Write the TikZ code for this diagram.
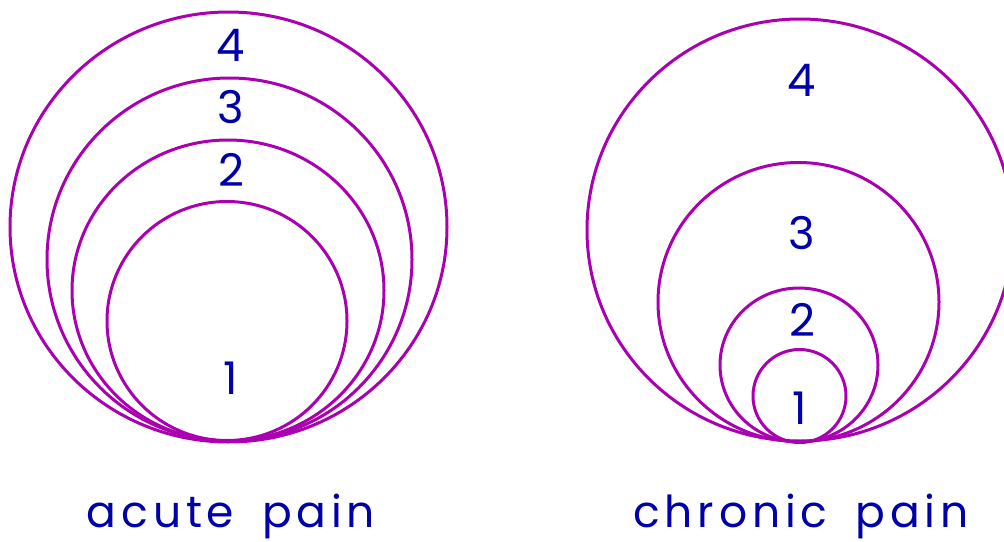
\documentclass[tikz,border=0pt]{standalone}
\usepackage{fontspec}
\setmainfont{Poppins}
\newfontfamily\lblfont[LetterSpace=11]{Poppins}
\definecolor{ring}{RGB}{170,0,178}
\definecolor{ink}{RGB}{0,0,170}
\begin{document}
\begin{tikzpicture}[x=1pt,y=-1pt,
  ringline/.style={draw=ring,line width=3pt},
  digit/.style={text=ink,inner sep=0pt,font=\fontsize{45}{45}\selectfont},
  caption/.style={text=ink,inner sep=0pt,anchor=base,font=\fontsize{44}{44}\lblfont}]
\useasboundingbox (0,0) rectangle (1004,541);
% left group
\draw[ringline] (228.5,227) ellipse [x radius=218.5, y radius=215];
\draw[ringline] (229.5,259.5) ellipse [x radius=182.5, y radius=181.5];
\draw[ringline] (228,290.5) ellipse [x radius=156, y radius=150.5];
\draw[ringline] (227,321) ellipse [x radius=120, y radius=119.5];
% right group
\draw[ringline] (800,230) ellipse [x radius=213, y radius=211];
\draw[ringline] (798.5,302) ellipse [x radius=140.5, y radius=139.5];
\draw[ringline] (799,365) ellipse [x radius=79, y radius=77];
\draw[ringline] (799.5,396) ellipse [x radius=46.5, y radius=46.5];
% digits
\node[digit] (l4) at (231,45) {4};
\node[digit] (l3) at (231,107) {3};
\node[digit] (l2) at (231,170) {2};
\node[digit] (l1) at (231,378) {1};
\node[digit] (r4) at (802,80) {4};
\node[digit] (r3) at (802,233) {3};
\node[digit] (r2) at (802,320) {2};
\node[digit] (r1) at (800,408) {1};
% captions
\node[caption] (acute) at (231,527) {acute\hspace{28pt}pain};
\node[caption] (chronic) at (801,527) {chronic\hspace{28pt}pain};
\end{tikzpicture}
\end{document}
